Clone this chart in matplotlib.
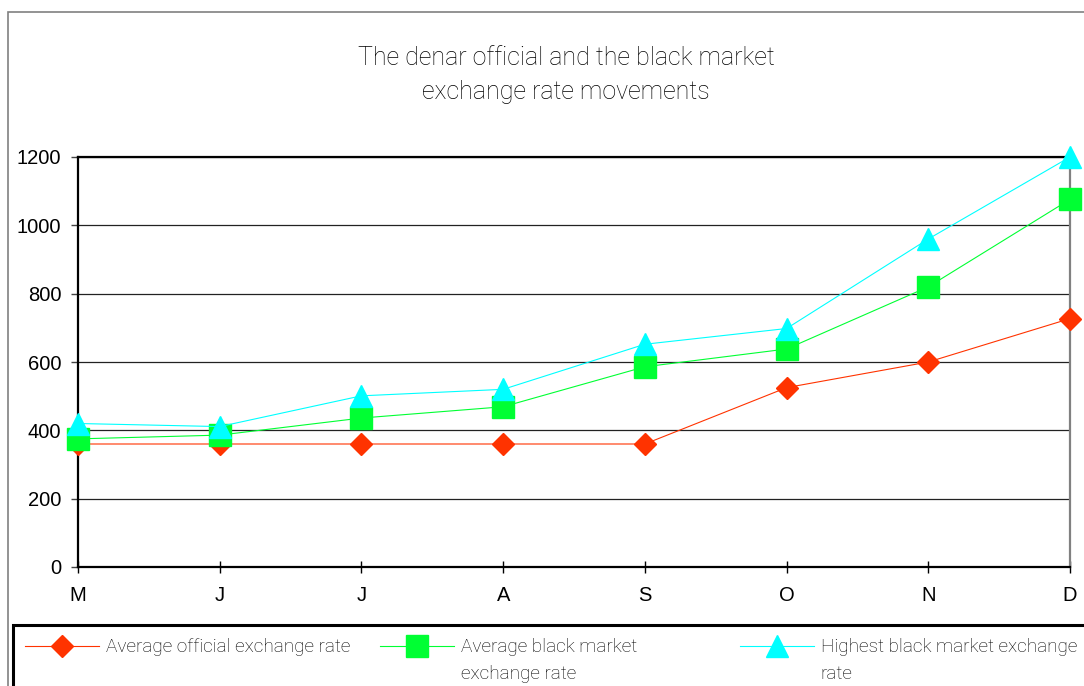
import matplotlib.pyplot as plt
from matplotlib.patches import Rectangle
from matplotlib.lines import Line2D

months = ["M", "J", "J", "A", "S", "O", "N", "D"]
official_avg = [360, 360, 360, 360, 360, 525, 600, 727]
black_avg = [375, 386, 436, 469, 586, 638, 820, 1076]
black_high = [420, 411, 501, 520, 652, 698, 960, 1200]
yticks = [0, 200, 400, 600, 800, 1000, 1200]

title_font = "Roboto"
tick_font = "Liberation Sans"

W, H = 1084, 686
fig = plt.figure(figsize=(W / 100, H / 100), dpi=100)

# grey outer frame of the chart area
fig.patches.append(Rectangle((8 / W, -0.1), 1.2, 1 - 12 / H + 0.1,
                             transform=fig.transFigure, fill=False,
                             edgecolor="#808080", lw=1.2))

ax = fig.add_axes([78 / W, 1 - 567 / H, (1070 - 78) / W, (567 - 157) / H])
x = list(range(len(months)))

ax.plot(x, official_avg, color="#FF3300", lw=0.8, marker="D", ms=10.8,
        mec="#FF3300", mfc="#FF3300", clip_on=False, zorder=3)
ax.plot(x, black_avg, color="#00FF33", lw=0.8, marker="s", ms=15.5,
        mec="#00FF33", mfc="#00FF33", clip_on=False, zorder=4)
ax.plot(x, black_high, color="#00FFFF", lw=0.8, marker="^", ms=15.5,
        mec="#00FFFF", mfc="#00FFFF", clip_on=False, zorder=5)

ax.set_xlim(0, len(months) - 1)
ax.set_ylim(0, 1200)
ax.set_yticks(yticks)
ax.set_xticks(x)
ax.set_xticklabels(months)
ax.yaxis.grid(True, color="#222222", lw=0.9)
ax.set_axisbelow(True)

for side in ["left", "bottom", "top"]:
    ax.spines[side].set_linewidth(1.6)
    ax.spines[side].set_color("black")
ax.spines["right"].set_color("#808080")
ax.spines["right"].set_linewidth(1.6)

ax.tick_params(axis="y", direction="out", length=5, width=1, color="#444444",
               pad=7, labelsize=14.5)
ax.tick_params(axis="x", direction="inout", length=9, width=1, color="black",
               pad=9, labelsize=14.5)
for lab in ax.get_xticklabels() + ax.get_yticklabels():
    lab.set_fontfamily(tick_font)

fig.text(566 / W, 1 - 75 / H,
         "The denar official and the black market\nexchange rate movements",
         ha="center", va="center", fontsize=18, family=title_font,
         weight="light", color="black", linespacing=1.55)

# legend box at the bottom
fig.patches.append(Rectangle((13 / W, -0.1), 1.2, 0.1 + (686 - 625) / H,
                             transform=fig.transFigure, fill=False,
                             edgecolor="black", lw=2.2))

handles = [
    Line2D([], [], color="#FF3300", lw=0.8, marker="D", ms=10.8, mec="#FF3300"),
    Line2D([], [], color="#00FF33", lw=0.8, marker="s", ms=15.5, mec="#00FF33"),
    Line2D([], [], color="#00FFFF", lw=0.8, marker="^", ms=15.5, mec="#00FFFF"),
]
labels = ["Average official exchange rate",
          "Average black market\nexchange rate",
          "Highest black market exchange\nrate"]
lx = [25, 380, 740]
for h, lab, px in zip(handles, labels, lx):
    leg = fig.legend([h], [lab], loc="upper left",
                     bbox_to_anchor=(px / W, 1 - 638 / H),
                     frameon=False, handlelength=3.9, handleheight=1.2,
                     handletextpad=0.35, borderpad=0, borderaxespad=0,
                     prop={"family": title_font, "size": 13.7, "weight": "light"})
    # keep the symbol level with the first line of a wrapped label
    for column in leg._legend_handle_box.get_children():
        for item in column.get_children():
            item.align = "top"
    for t in leg.get_texts():
        t.set_linespacing(1.65)
        t.set_color("black")

fig.savefig("out.png", dpi=100)
